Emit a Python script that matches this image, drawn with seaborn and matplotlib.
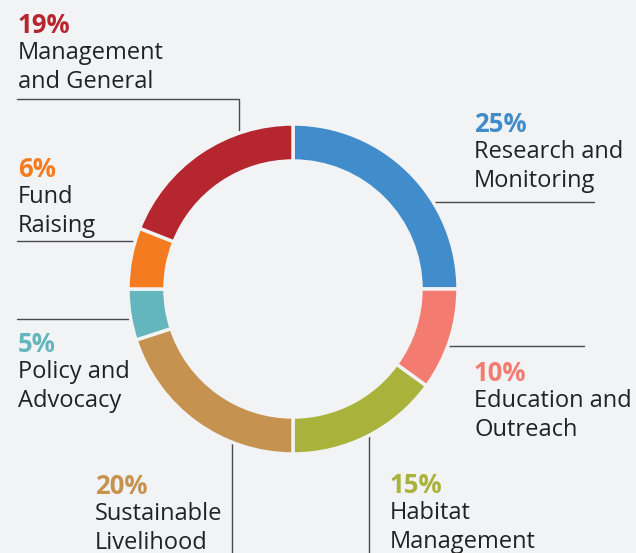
import seaborn as sns
import matplotlib.pyplot as plt

# --- data ---
categories = ["Research and\nMonitoring", "Education and\nOutreach", "Habitat\nManagement",
              "Sustainable\nLivelihood", "Policy and\nAdvocacy", "Fund\nRaising",
              "Management\nand General"]
shares = [25, 10, 15, 20, 5, 6, 19]
colors = ["#418ccb", "#f47b70", "#a9b23a", "#c6924f", "#63b5be", "#f47b20", "#b5262f"]

BG = "#f2f3f5"
W, H = 636, 553

sns.set_theme(style="white", rc={"figure.facecolor": BG, "axes.facecolor": BG})
plt.rcParams["font.family"] = ["Open Sans", "DejaVu Sans"]

fig = plt.figure(figsize=(W / 100, H / 100), dpi=100)
ax = fig.add_axes([0, 0, 1, 1])

# donut (pixel coordinates, y measured from the top)
cx, cy, R, ring = 293, 289, 165, 37
ax.pie(shares, colors=colors, startangle=90, counterclock=False,
       center=(cx, H - cy), radius=R, frame=True,
       wedgeprops=dict(width=ring, edgecolor=BG, linewidth=2.5, zorder=3))
ax.set_xlim(0, W)
ax.set_ylim(0, H)
ax.set_aspect("equal")
ax.axis("off")

# leader lines
lc = dict(color="#4a4a4a", lw=1.0, zorder=1)
def seg(xs, ys):
    ax.plot(xs, [H - y for y in ys], **lc)

seg([17, 239, 239], [99, 99, 140])      # management
seg([17, 140], [241, 241])              # fund raising
seg([594, 425], [202, 202])             # research
seg([584, 440], [346, 346])             # education
seg([17, 135], [319, 319])              # policy
seg([232, 232], [436, 553])             # sustainable
seg([369, 369], [430, 553])             # habitat

# labels: (x, baseline of percentage)
label_pos = [(474, 132), (474, 381), (390, 493), (95, 494), (18, 352), (18, 177), (18, 33)]
for cat, val, col, (x, b) in zip(categories, shares, colors, label_pos):
    ax.text(x, H - b, f"{val}%", color=col, fontsize=18.5, fontweight="bold",
            ha="left", va="baseline")
    l1, l2 = cat.split("\n")
    ax.text(x, H - (b + 26), l1, color="#222222", fontsize=17, ha="left", va="baseline")
    ax.text(x, H - (b + 55), l2, color="#222222", fontsize=17, ha="left", va="baseline")

fig.savefig("out.png", dpi=100, facecolor=BG)
